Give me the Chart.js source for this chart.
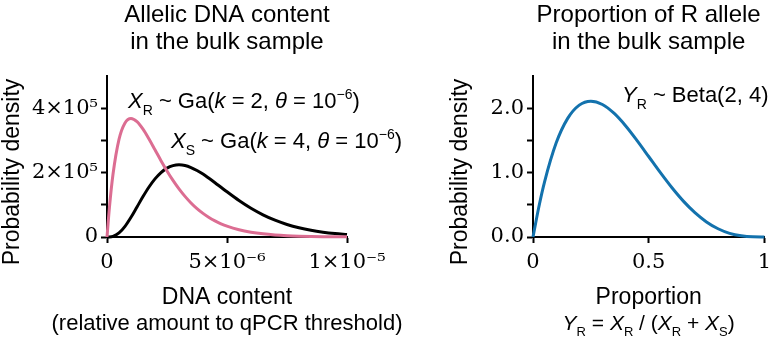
<!DOCTYPE html>
<html>
<head>
<meta charset="utf-8">
<script src="https://cdn.jsdelivr.net/npm/chart.js@4/dist/chart.umd.min.js"></script>
<style>
  body { margin: 0; background: #fff; }
  #wrap { position: relative; width: 778px; height: 344px; }
  canvas { position: absolute; top: 0; left: 0; }
</style>
</head>
<body>
<div id="wrap">
  <canvas id="leftChart" width="778" height="344"></canvas>
  <canvas id="rightChart" width="778" height="344"></canvas>
</div>
<script>
// Left panel: DNA content (x) and gamma densities
const dnaContent = [0, 0.1e-6, 0.25e-6, 0.5e-6, 0.75e-6, 1e-6, 1.25e-6, 1.5e-6, 1.75e-6, 2e-6, 2.25e-6,
  2.5e-6, 2.75e-6, 3e-6, 3.25e-6, 3.5e-6, 3.75e-6, 4e-6, 4.25e-6, 4.5e-6, 4.75e-6, 5e-6, 5.5e-6,
  6e-6, 6.5e-6, 7e-6, 7.5e-6, 8e-6, 8.5e-6, 9e-6, 9.5e-6, 1e-5];
const densityR = [0, 90500, 194700, 303300, 354300, 367900, 358100, 334700, 304100, 270700, 237100,
  205200, 175700, 149400, 126100, 105700, 88100, 73300, 60600, 50000, 41100, 33700, 22500,
  14900, 9750, 6380, 4150, 2680, 1730, 1110, 710, 450];
const densityS = [0, 150, 2030, 12640, 33220, 61310, 93260, 125500, 155200, 180400, 200100,
  213800, 221500, 224000, 222000, 215800, 206500, 195400, 182400, 168700, 154500, 140400, 113300,
  89200, 68800, 52100, 38900, 28600, 20800, 15000, 10700, 7570];
const leftXTicks = ['0', '5×10⁻⁶', '1×10⁻⁵'];
const leftYTicks = ['0', '', '2×10⁵', '', '4×10⁵'];

// Right panel: proportion and beta density
const proportion = [0, 0.025, 0.05, 0.1, 0.15, 0.2, 0.25, 0.3, 0.35, 0.4, 0.45, 0.5, 0.55,
  0.6, 0.65, 0.7, 0.75, 0.8, 0.85, 0.9, 0.95, 1];
const densityY = [0, 0.463, 0.857, 1.458, 1.842, 2.048, 2.109, 2.058, 1.922, 1.728, 1.497, 1.25, 1.002,
  0.768, 0.557, 0.378, 0.234, 0.128, 0.057, 0.018, 0.002, 0];
const rightXTicks = ['0', '0.5', '1'];
const rightYTicks = ['0.0', '', '1.0', '', '2.0'];

const SANS = '"Liberation Sans", Arial, sans-serif';
const SERIF = '"DejaVu Serif", serif';

function toPoints(xs, ys) {
  return xs.map((x, i) => ({ x: x, y: ys[i] }));
}

// draw a line of text made of runs: [text, style] where style is '', 'i', 'sub' or 'sup'
function drawRuns(ctx, runs, x, y, size, align, rotate) {
  const parts = runs.map(([t, st]) => {
    const s = (st === 'sub' || st === 'sup') ? Math.round(size * 0.62) : size;
    const font = (st === 'i' ? 'italic ' : '') + s + 'px ' + SANS;
    ctx.font = font;
    let dy = 0;
    if (st === 'sub') dy = size * 0.3;
    if (st === 'sup') dy = -size * 0.42;
    return { t, font, dy, w: ctx.measureText(t).width };
  });
  const total = parts.reduce((a, p) => a + p.w, 0);
  ctx.save();
  ctx.translate(x, y);
  if (rotate) ctx.rotate(rotate);
  ctx.fillStyle = '#000';
  ctx.textBaseline = rotate ? 'middle' : 'alphabetic';
  let cx = align === 'center' ? -total / 2 : 0;
  parts.forEach(p => {
    ctx.font = p.font;
    ctx.fillText(p.t, cx, p.dy);
    cx += p.w;
  });
  ctx.restore();
}

function textPlugin(items) {
  return {
    id: 'texts',
    afterDraw(chart) {
      const ctx = chart.ctx;
      const mid = (chart.chartArea.left + chart.chartArea.right) / 2;
      items.forEach(it => {
        const x = it.x === 'mid' ? mid : it.x;
        drawRuns(ctx, it.runs, x, it.y, it.size, it.align || 'left', it.rotate);
      });
    }
  };
}

function axisOpts(min, max, step, labels, fitSize, isY, keepMax) {
  return {
    type: 'linear',
    min: min,
    max: max,
    border: { display: true, color: '#000', width: 2 },
    grid: { display: true, drawOnChartArea: false, drawTicks: true, tickLength: 6, tickColor: '#000', tickWidth: 2 },
    ticks: {
      stepSize: step,
      autoSkip: false,
      maxRotation: 0,
      padding: isY ? 3 : 7,
      color: '#000',
      font: { family: SERIF, size: 21 },
      callback: (v, i) => labels[i]
    },
    afterBuildTicks: scale => {
      scale.ticks = scale.ticks.filter(t => t.value <= keepMax + 1e-12);
    },
    afterFit: scale => {
      if (isY) scale.width = fitSize; else scale.height = fitSize;
    }
  };
}

function baseOptions(padding, scales) {
  return {
    responsive: false,
    animation: false,
    devicePixelRatio: 1,
    layout: { padding: padding },
    plugins: { legend: { display: false }, tooltip: { enabled: false } },
    elements: {
      point: { radius: 0 },
      line: { borderWidth: 3, cubicInterpolationMode: 'monotone', fill: false }
    },
    scales: scales
  };
}

// Left chart
new Chart(document.getElementById('leftChart'), {
  type: 'line',
  data: {
    datasets: [
      { data: toPoints(dnaContent, densityS), borderColor: '#000000', order: 2, clip: 4 },
      { data: toPoints(dnaContent, densityR), borderColor: '#dc6d92', order: 1, clip: 4 }
    ]
  },
  options: baseOptions({ top: 76, right: 431, bottom: 0, left: 0 }, {
    x: axisOpts(0, 1e-5, 5e-6, leftXTicks, 107, false, 1e-5),
    y: axisOpts(0, 5e5, 1e5, leftYTicks, 107, true, 4e5)
  }),
  plugins: [textPlugin([
    { x: 'mid', y: 22, size: 24, align: 'center', runs: [['Allelic DNA content', '']] },
    { x: 'mid', y: 49, size: 24, align: 'center', runs: [['in the bulk sample', '']] },
    { x: 13, y: 172, size: 23, align: 'center', rotate: -Math.PI / 2, runs: [['Probability density', '']] },
    { x: 'mid', y: 304, size: 23, align: 'center', runs: [['DNA content', '']] },
    { x: 'mid', y: 330, size: 22, align: 'center', runs: [['(relative amount to qPCR threshold)', '']] },
    { x: 128, y: 108, size: 22, runs: [['X', 'i'], ['R', 'sub'], [' ~ Ga(', ''], ['k', 'i'], [' = 2, ', ''], ['θ', 'i'], [' = 10', ''], ['−6', 'sup'], [')', '']] },
    { x: 171, y: 148, size: 22, runs: [['X', 'i'], ['S', 'sub'], [' ~ Ga(', ''], ['k', 'i'], [' = 4, ', ''], ['θ', 'i'], [' = 10', ''], ['−6', 'sup'], [')', '']] }
  ])]
});

// Right chart
new Chart(document.getElementById('rightChart'), {
  type: 'line',
  data: {
    datasets: [
      { data: toPoints(proportion, densityY), borderColor: '#1372ad', clip: 4 }
    ]
  },
  options: baseOptions({ top: 76, right: 7, bottom: 0, left: 0 }, {
    x: axisOpts(0, 1, 0.5, rightXTicks, 107, false, 1),
    y: axisOpts(0, 2.5, 0.5, rightYTicks, 533, true, 2.0)
  }),
  plugins: [textPlugin([
    { x: 'mid', y: 22, size: 24, align: 'center', runs: [['Proportion of R allele', '']] },
    { x: 'mid', y: 49, size: 24, align: 'center', runs: [['in the bulk sample', '']] },
    { x: 461, y: 172, size: 23, align: 'center', rotate: -Math.PI / 2, runs: [['Probability density', '']] },
    { x: 'mid', y: 304, size: 23, align: 'center', runs: [['Proportion', '']] },
    { x: 'mid', y: 330, size: 21, align: 'center', runs: [['Y', 'i'], ['R', 'sub'], [' = ', ''], ['X', 'i'], ['R', 'sub'], [' / (', ''], ['X', 'i'], ['R', 'sub'], [' + ', ''], ['X', 'i'], ['S', 'sub'], [')', '']] },
    { x: 622, y: 102, size: 22, runs: [['Y', 'i'], ['R', 'sub'], [' ~ Beta(2, 4)', '']] }
  ])]
});
</script>
</body>
</html>
